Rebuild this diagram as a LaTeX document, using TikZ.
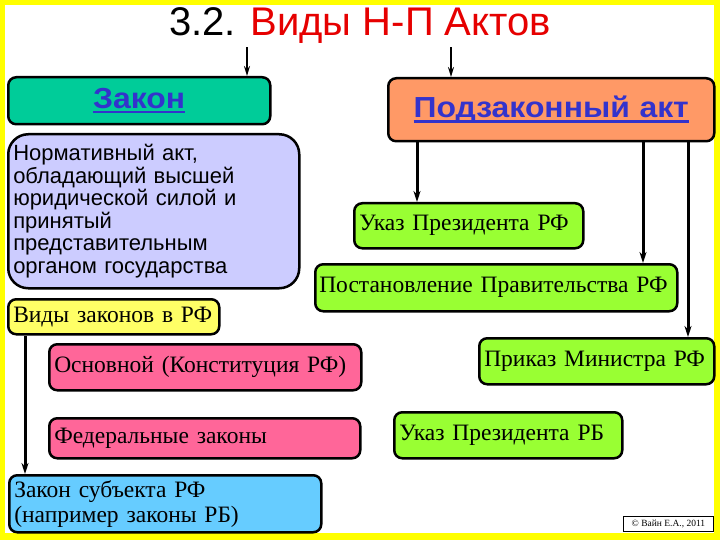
\documentclass[tikz,border=0pt]{standalone}
\usepackage{fontspec}
\setmainfont{Liberation Serif}
\newfontfamily\arialf{Liberation Sans}
\newfontfamily\arialw[FakeStretch=1.1]{Liberation Sans}
\usetikzlibrary{arrows.meta}
\definecolor{frameY}{HTML}{FFFF00}
\definecolor{tealB}{HTML}{00CC99}
\definecolor{orangeB}{HTML}{FF9966}
\definecolor{lavB}{HTML}{CCCCFF}
\definecolor{yelB}{HTML}{FFFF66}
\definecolor{pinkB}{HTML}{FF6699}
\definecolor{skyB}{HTML}{66CCFF}
\definecolor{greenB}{HTML}{99FF33}
\definecolor{linkB}{HTML}{3333CC}
\definecolor{titleR}{HTML}{E60000}
\newsavebox{\ulbox}
\newcommand{\linkul}[1]{\sbox{\ulbox}{#1}\leavevmode\makebox[0pt][l]{\raisebox{-5pt}{\rule{\wd\ulbox}{2.2pt}}}\usebox{\ulbox}}
\begin{document}
\begin{tikzpicture}[x=1pt,y=-1pt,
  box/.style={draw=black, line width=2.5pt, rounded corners=8pt, anchor=north west,
    inner xsep=5pt, inner ysep=0pt, align=left},
  serif/.style={font=\fontsize{23.5}{25}\selectfont},
  arr/.style={line width=3pt, -{Stealth[length=11pt,width=7pt]}},
  arrT/.style={line width=2pt, -{Stealth[length=10pt,width=6pt]}}]
\useasboundingbox (0,0) rectangle (720,540);
\fill[frameY] (0,0) rectangle (720,540);
\fill[white] (5,5) rectangle (714,533);

\node[font=\arialf\fontsize{40}{40}\selectfont] (title) at (360,26)
  {3.2. \textcolor{titleR}{Виды Н-П Актов}};

\node[box, fill=tealB, text width=252pt, minimum height=47pt, align=center,
  font=\arialw\bfseries\fontsize{29}{29}\selectfont, text=linkB]
  (zakon) at (7,76) {\linkul{Закон}};
\node[box, fill=orangeB, text width=316pt, minimum height=63pt, align=center,
  font=\arialw\bfseries\fontsize{29}{29}\selectfont, text=linkB]
  (podz) at (387,77) {\linkul{Подзаконный акт}};

\node[box, fill=lavB, rounded corners=20pt, text width=281pt, minimum height=154pt,
  font=\arialf\fontsize{22}{22.5}\selectfont]
  (def) at (7,133) {Нормативный акт,\\обладающий высшей\\юридической силой и\\принятый\\представительным\\органом государства};

\node[box, serif, fill=yelB, text width=201pt, minimum height=35pt] (vidy) at (7,298) {\mbox{Виды законов в РФ}};
\node[box, serif, fill=pinkB, text width=302pt, minimum height=46pt] (osn) at (48,343) {\mbox{Основной (Конституция РФ)}};
\node[box, serif, fill=pinkB, text width=301pt, minimum height=40pt] (fed) at (48,417) {\mbox{Федеральные законы}};
\node[box, serif, fill=skyB, text width=302pt, minimum height=57pt] (subj) at (8,474) {\mbox{Закон субъекта РФ}\\\mbox{(например законы РБ)}};

\node[box, serif, fill=greenB, text width=219pt, minimum height=45pt] (ukazrf) at (353,202) {\mbox{Указ Президента РФ}};
\node[box, serif, fill=greenB, text width=354pt, minimum height=47pt, inner xsep=4pt] (post) at (314,263) {\mbox{Постановление Правительства РФ}};
\node[box, serif, fill=greenB, text width=225pt, minimum height=46pt] (prik) at (478,337) {\mbox{Приказ Министра РФ}};
\node[box, serif, fill=greenB, text width=218pt, minimum height=46pt] (ukazrb) at (393,411) {\mbox{Указ Президента РБ}};

\node[draw=black, line width=0.8pt, fill=white, anchor=north west, minimum width=90pt,
  minimum height=15pt, inner sep=1pt, font=\fontsize{9.5}{9.5}\selectfont]
  (copy) at (623,516) {© Вайн Е.А., 2011};

\coordinate (a1) at (247,0);
\coordinate (a2) at (451,0);
\draw[arrT] (title.south -| a1) -- (a1 |- zakon.north);
\draw[arrT] (title.south -| a2) -- (a2 |- podz.north);

\coordinate (b1) at (417,0);
\coordinate (b2) at (643,0);
\coordinate (b3) at (688,0);
\draw[arr] (b1 |- podz.south) -- (b1 |- ukazrf.north);
\draw[arr] (b2 |- podz.south) -- (b2 |- post.north);
\draw[arr] (b3 |- podz.south) -- (b3 |- prik.north);

\coordinate (c1) at (25,0);
\draw[arr] (c1 |- vidy.south) -- (c1 |- subj.north);
\end{tikzpicture}
\end{document}
